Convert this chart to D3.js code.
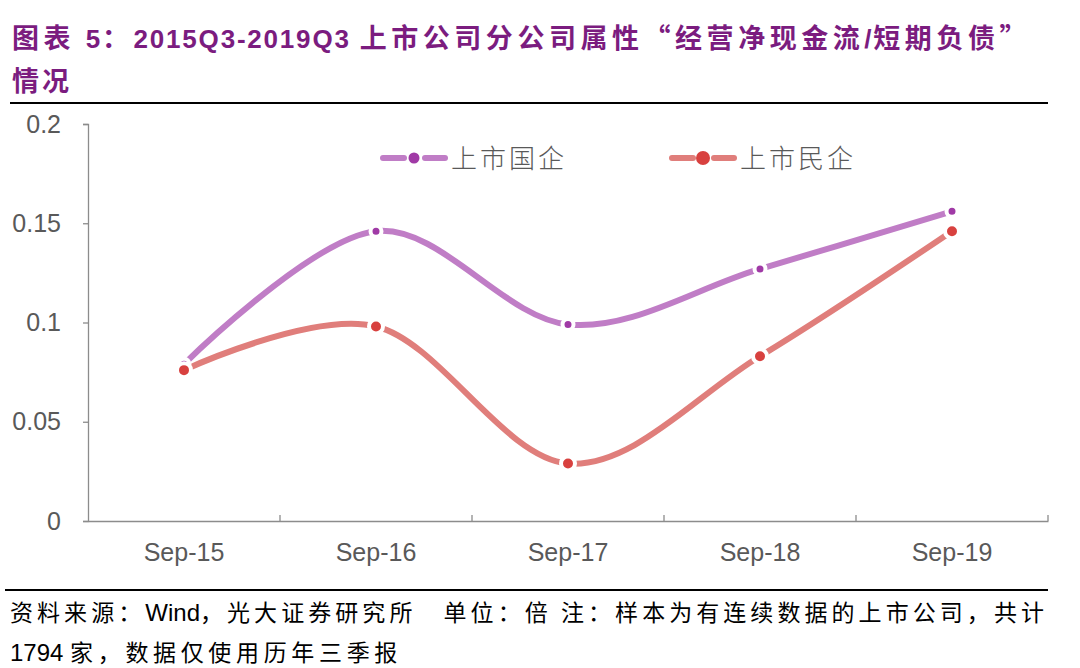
<!DOCTYPE html>
<html><head><meta charset="utf-8">
<script src="https://cdn.jsdelivr.net/npm/d3@7"></script>
<style>
body{margin:0;background:#fff;}
svg{display:block;}
</style></head>
<body>
<svg id="c" width="1080" height="668"></svg>
<script>
const categories = ["Sep-15","Sep-16","Sep-17","Sep-18","Sep-19"];
const seriesNames = ["上市国企","上市民企"];
const soeValues = [0.079, 0.146, 0.099, 0.127, 0.156];
const privValues = [0.076, 0.098, 0.029, 0.083, 0.146];
const yTicks = [0, 0.05, 0.1, 0.15, 0.2];
const yTickLabels = ["0","0.05","0.1","0.15","0.2"];
const titleLines = ["图表 5：2015Q3-2019Q3 上市公司分公司属性“经营净现金流/短期负债”","情况"];
const footLines = ["资料来源：Wind，光大证券研究所　单位：倍 注：样本为有连续数据的上市公司，共计","1794 家，数据仅使用历年三季报"];

const svg = d3.select("#c");
const latinFont = "'Liberation Sans', Arial, sans-serif";
const cjkFont = "'Noto Sans CJK SC', sans-serif";
const purple = "#7b1c7f";

function runs(str){
  const out = [];
  for (const ch of str){
    const isLatin = /[\x20-\x7e]/.test(ch) && ch !== " ";
    const type = ch === " " ? (out.length ? out[out.length-1].type : "cjk") : (isLatin ? "latin" : "cjk");
    if (out.length && out[out.length-1].type === type) out[out.length-1].text += ch;
    else out.push({text: ch, type});
  }
  return out;
}

function richText(g, str, opts){
  const t = g.append("text").attr("x", opts.x).attr("y", opts.y)
    .attr("fill", opts.fill).attr("font-weight", opts.weight || "normal");
  const spans = t.selectAll("tspan").data(runs(str)).join("tspan")
    .attr("font-family", d => d.type === "latin" ? latinFont : cjkFont)
    .attr("font-size", d => d.type === "latin" ? opts.latinSize : opts.cjkSize)
    .attr("letter-spacing", d => d.type === "latin" ? opts.latinSpacing : opts.cjkSpacing)
    .style("white-space","pre")
    .text(d => d.text);
  if (opts.target){
    const cjkCount = runs(str).filter(d=>d.type==="cjk").reduce((a,d)=>a+[...d.text].length,0);
    const w = t.node().getComputedTextLength();
    const extra = (opts.target - w) / cjkCount;
    spans.filter(d=>d.type==="cjk").attr("letter-spacing", opts.cjkSpacing + extra);
  }
  return t;
}

// title
const tg = svg.append("g");
richText(tg, titleLines[0], {x:12, y:48, fill:purple, weight:"bold", latinSize:26, cjkSize:27,
  latinSpacing:1.8, cjkSpacing:2, target:1019});
richText(tg, titleLines[1], {x:12, y:91, fill:purple, weight:"bold", latinSize:26, cjkSize:27,
  latinSpacing:2, cjkSpacing:3});
svg.append("line").attr("x1",10).attr("x2",1048).attr("y1",103).attr("y2",103)
  .attr("stroke","#000").attr("stroke-width",2);

// chart
const x = d3.scaleBand().domain(categories).range([88,1048]);
const y = d3.scaleLinear().domain([0,0.2]).range([521,124]);

const axisColor = "#8c8c8c";
const yAxis = svg.append("g").attr("transform","translate(88,0)")
  .call(d3.axisLeft(y).tickValues(yTicks).tickFormat((d,i)=>yTickLabels[i]).tickSize(5).tickPadding(22));
const xAxis = svg.append("g").attr("transform","translate(0,521)")
  .call(d3.axisBottom(x).tickSize(0).tickPadding(22));
[yAxis,xAxis].forEach(g=>{
  g.select(".domain").attr("stroke",axisColor).attr("stroke-width",1.3);
  g.selectAll(".tick line").attr("stroke",axisColor).attr("stroke-width",1.3);
  g.selectAll("text").attr("fill","#595959").style("font-size","25px")
    .style("font-family",latinFont);
});
svg.append("g").selectAll("line").data(categories.slice(1)).join("line")
  .attr("x1",d=>x(d)).attr("x2",d=>x(d)).attr("y1",521).attr("y2",515)
  .attr("stroke",axisColor).attr("stroke-width",1.3);
svg.append("line").attr("x1",1048).attr("x2",1048).attr("y1",521).attr("y2",515)
  .attr("stroke",axisColor).attr("stroke-width",1.3);

const series = [
  {name:seriesNames[0], values:soeValues, line:"#c07dc6", dot:"#a03aa6", r:5.5},
  {name:seriesNames[1], values:privValues, line:"#e07e7b", dot:"#d8413f", r:7}
];
const line = d3.line().x((d,i)=>x(categories[i])+x.bandwidth()/2).y(d=>y(d))
  .curve(d3.curveCardinal.tension(0));

series.forEach(s=>{
  svg.append("path").datum(s.values).attr("d",line)
    .attr("fill","none").attr("stroke",s.line).attr("stroke-width",6)
    .attr("stroke-linecap","butt");
});
series.forEach(s=>{
  svg.append("g").selectAll("circle").data(s.values).join("circle")
    .attr("cx",(d,i)=>x(categories[i])+x.bandwidth()/2).attr("cy",d=>y(d))
    .attr("r",s.r).attr("fill",s.dot).attr("stroke","#fff").attr("stroke-width",4);
});

// legend
const legendX = [383, 672];
series.forEach((s,i)=>{
  const g = svg.append("g").attr("transform",`translate(${legendX[i]},158)`);
  g.append("line").attr("x1",0).attr("x2",21).attr("y1",0).attr("y2",0)
    .attr("stroke",s.line).attr("stroke-width",6).attr("stroke-linecap","round");
  g.append("line").attr("x1",42).attr("x2",62).attr("y1",0).attr("y2",0)
    .attr("stroke",s.line).attr("stroke-width",6).attr("stroke-linecap","round");
  g.append("circle").attr("cx",31).attr("cy",0).attr("r",s.r).attr("fill",s.dot);
  g.append("text").attr("x",68).attr("y",10).attr("font-size",26)
    .attr("fill","#595959").attr("font-family",cjkFont).attr("font-weight",300)
    .attr("letter-spacing",3).text(s.name);
});

// footer
svg.append("line").attr("x1",5).attr("x2",1048).attr("y1",590).attr("y2",590)
  .attr("stroke","#000").attr("stroke-width",2);
const fg = svg.append("g");
richText(fg, footLines[0], {x:10, y:621, fill:"#000", latinSize:24, cjkSize:23,
  latinSpacing:0, cjkSpacing:2, target:1038});
richText(fg, footLines[1], {x:10, y:661, fill:"#000", latinSize:24, cjkSize:23,
  latinSpacing:0, cjkSpacing:2, target:392});
</script>
</body></html>
